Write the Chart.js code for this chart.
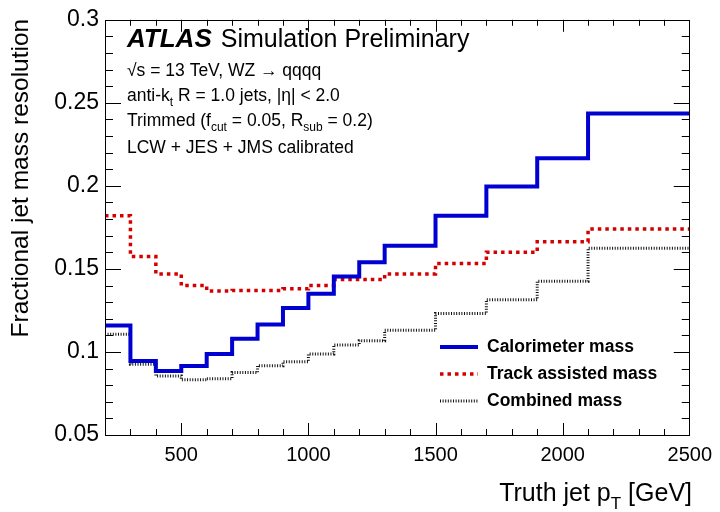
<!DOCTYPE html>
<html>
<head>
<meta charset="utf-8">
<script src="https://cdn.jsdelivr.net/npm/chart.js@4.4.1/dist/chart.umd.min.js"></script>
<style>
  html, body { margin:0; padding:0; background:#fff; }
  #wrap { width:720px; height:512px; }
</style>
</head>
<body>
<div id="wrap"><canvas id="c" width="720" height="512"></canvas></div>
<script>
// bin edges of truth jet pT [GeV]
const binEdges = [200,300,400,500,600,700,800,900,1000,1100,1200,1300,1500,1700,1900,2100,2500];
// resolution per bin
const caloMass  = [0.116,0.0945,0.0886,0.0916,0.0987,0.108,0.1165,0.1264,0.135,0.1454,0.154,0.164,0.182,0.1996,0.2167,0.2436];
const trackMass = [0.182,0.1575,0.147,0.140,0.1367,0.137,0.137,0.138,0.140,0.1436,0.1436,0.147,0.1533,0.160,0.1664,0.174];
const combMass  = [0.1106,0.0926,0.0856,0.0833,0.0839,0.0876,0.0917,0.0941,0.0987,0.1042,0.1068,0.113,0.1232,0.1314,0.1426,0.1624];
const seriesNames = ["Calorimeter mass","Track assisted mass","Combined mass"];
const xTicks = [500,1000,1500,2000,2500];
const yTicks = [0.05,0.1,0.15,0.2,0.25,0.3];

const FONT = '"Liberation Sans", Arial, Helvetica, sans-serif';

// histogram -> step points (last value repeated at the right edge)
function steps(vals){
  return binEdges.map((e,i)=>({x:e, y: vals[Math.min(i, vals.length-1)]}));
}

// draws text with optional subscripts: parts = [[text, isSub], ...]
function richText(ctx, parts, x, y, size, weight){
  let cx = x;
  parts.forEach(p=>{
    const sub = p[1];
    ctx.font = (weight||"") + " " + (sub ? Math.round(size*0.68) : size) + "px " + FONT;
    ctx.fillText(p[0], cx, sub ? y + size*0.3 : y);
    cx += ctx.measureText(p[0]).width;
  });
  return cx;
}
function richWidth(ctx, parts, size, weight){
  let w = 0;
  parts.forEach(p=>{
    ctx.font = (weight||"") + " " + (p[1] ? Math.round(size*0.68) : size) + "px " + FONT;
    w += ctx.measureText(p[0]).width;
  });
  return w;
}

const rootStyle = {
  id: "rootStyle",
  afterDatasetsDraw(chart){
    const ctx = chart.ctx;
    const a = chart.chartArea;
    const xs = chart.scales.x, ys = chart.scales.y;
    ctx.save();
    ctx.strokeStyle = "#000";
    ctx.lineWidth = 1;
    // frame
    ctx.strokeRect(Math.round(a.left)+0.5, Math.round(a.top)+0.5, Math.round(a.right-a.left)-1, Math.round(a.bottom-a.top));
    // x ticks (inside, bottom + top)
    ctx.beginPath();
    for (let v = 300; v < 2500; v += 100){
      const px = Math.round(xs.getPixelForValue(v))+0.5;
      const len = (v % 500 === 0) ? 12 : 6;
      ctx.moveTo(px, a.bottom); ctx.lineTo(px, a.bottom-len);
      ctx.moveTo(px, a.top); ctx.lineTo(px, a.top+len);
    }
    // y ticks (inside, left + right)
    for (let i = 6; i < 30; i++){
      const v = i/100;
      const py = Math.round(ys.getPixelForValue(v))+0.5;
      const len = (i % 5 === 0) ? 16 : 8;
      ctx.moveTo(a.left, py); ctx.lineTo(a.left+len, py);
      ctx.moveTo(a.right, py); ctx.lineTo(a.right-len, py);
    }
    ctx.stroke();

    ctx.fillStyle = "#000";
    ctx.textBaseline = "alphabetic";
    ctx.textAlign = "left";
    // ATLAS label
    ctx.font = "italic bold 26px " + FONT;
    ctx.fillText("ATLAS", 127, 47);
    const aw = ctx.measureText("ATLAS").width;
    ctx.font = "25px " + FONT;
    ctx.fillText("Simulation Preliminary", 127 + aw + 9, 47);
    // info lines
    const fs = 17.5;
    richText(ctx, [["\u221As = 13 TeV, WZ \u2192 qqqq", false]], 127, 76, fs);
    richText(ctx, [["anti-k", false],["t", true],[" R = 1.0 jets, |\u03B7| < 2.0", false]], 127, 101, fs);
    richText(ctx, [["Trimmed (f", false],["cut", true],[" = 0.05, R", false],["sub", true],[" = 0.2)", false]], 127, 126, fs);
    richText(ctx, [["LCW + JES + JMS calibrated", false]], 127, 153, fs);

    // legend
    const rows = [347, 374, 401];
    chart.data.datasets.forEach((ds, i)=>{
      ctx.save();
      ctx.strokeStyle = ds.borderColor;
      ctx.lineWidth = ds.borderWidth;
      ctx.setLineDash(ds.borderDash || []);
      ctx.beginPath();
      ctx.moveTo(440, rows[i]); ctx.lineTo(478, rows[i]);
      ctx.stroke();
      ctx.restore();
      ctx.fillStyle = "#000";
      ctx.font = "bold 17.5px " + FONT;
      ctx.textBaseline = "middle";
      ctx.fillText(seriesNames[i], 487, rows[i]);
    });

    // x title, right aligned at the frame edge
    ctx.textBaseline = "alphabetic";
    const xt = [["Truth jet p", false],["T", true],[" [GeV]", false]];
    const xw = richWidth(ctx, xt, 25);
    richText(ctx, xt, 692 - xw, 501, 25);

    // y title, rotated, aligned with the top of the frame
    ctx.save();
    ctx.translate(28, a.top - 1);
    ctx.rotate(-Math.PI/2);
    ctx.font = "24.5px " + FONT;
    ctx.textAlign = "right";
    ctx.fillText("Fractional jet mass resolution", 0, 0);
    ctx.restore();
    ctx.restore();
  }
};

new Chart(document.getElementById("c"), {
  type: "line",
  data: {
    datasets: [
      { label: seriesNames[0], data: steps(caloMass), borderColor: "#0000d0", borderWidth: 4, stepped: true, pointRadius: 0, fill: false },
      { label: seriesNames[1], data: steps(trackMass), borderColor: "#d40000", borderWidth: 3.5, borderDash: [3.5,4], borderCapStyle: "butt", stepped: true, pointRadius: 0, fill: false },
      { label: seriesNames[2], data: steps(combMass), borderColor: "#111", borderWidth: 3, borderDash: [1,1.6], borderCapStyle: "butt", stepped: true, pointRadius: 0, fill: false }
    ]
  },
  options: {
    responsive: false,
    animation: false,
    events: [],
    layout: { padding: { left: 0, right: 30, top: 15, bottom: 0 } },
    plugins: { legend: { display: false }, tooltip: { enabled: false } },
    scales: {
      x: {
        type: "linear", min: 200, max: 2500,
        grid: { display: false, drawTicks: false },
        border: { display: false },
        afterBuildTicks: s => { s.ticks = xTicks.map(v => ({ value: v })); },
        afterFit: s => { s.height = 77; },
        ticks: { color: "#000", padding: 8, maxRotation: 0, autoSkip: false, font: { family: FONT, size: 20 },
          callback: v => String(v) }
      },
      y: {
        type: "linear", min: 0.05, max: 0.3,
        grid: { display: false, drawTicks: false },
        border: { display: false },
        afterBuildTicks: s => { s.ticks = yTicks.map(v => ({ value: v })); },
        afterFit: s => { s.width = 105; },
        ticks: { color: "#000", padding: 6, autoSkip: false, font: { family: FONT, size: 23 },
          callback: v => String(+v.toFixed(2)) }
      }
    }
  },
  plugins: [rootStyle]
});
</script>
</body>
</html>
